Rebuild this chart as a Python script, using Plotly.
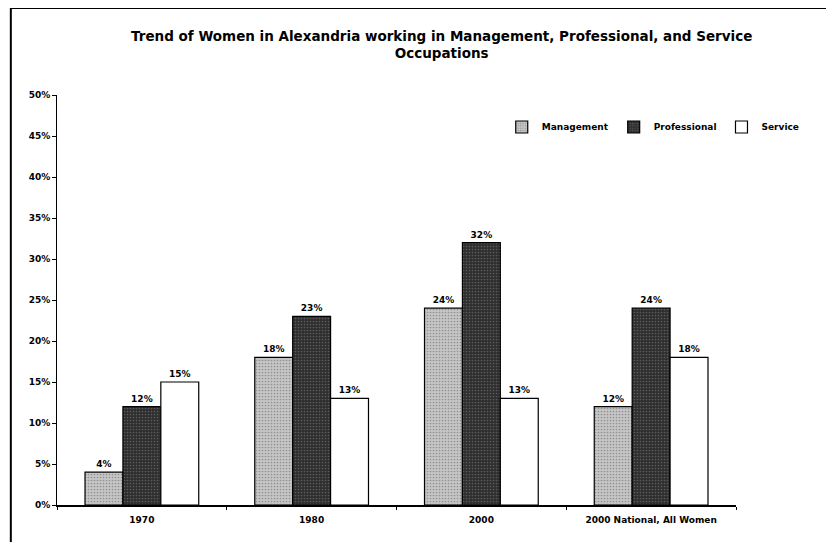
"""
Women in Alexandria working in Management, Professional and Service
occupations, 1970 to 2000, compared with the national 2000 figures.
"""

import plotly.graph_objects as go

# Categories on the x axis.
AÑOS = ["1970", "1980", "2000", "2000 National, All Women"]

# Share of women in each occupation (percent).
MANAGEMENT = [4, 18, 24, 12]
PROFESSIONAL = [12, 23, 32, 24]
SERVICE = [15, 13, 13, 18]

FONT = "DejaVu Sans, Verdana, sans-serif"


def grafica():
    fig = go.Figure()

    # Management: light stippled gray.
    fig.add_trace(
        go.Bar(
            x=AÑOS,
            y=MANAGEMENT,
            name="Management",
            marker_color="#c4c4c4",
            marker_line_color="#000000",
            marker_line_width=1.2,
            marker_pattern=dict(
                shape=".", bgcolor="#c6c6c6", fgcolor="#5a5a5a", size=3, solidity=0.25
            ),
            texttemplate="%{y}",
            textposition="outside",
            cliponaxis=False,
        )
    )

    # Professional: dark stippled gray.
    fig.add_trace(
        go.Bar(
            x=AÑOS,
            y=PROFESSIONAL,
            name="Professional",
            marker_color="#3c3c3c",
            marker_line_color="#000000",
            marker_line_width=1.2,
            marker_pattern=dict(
                shape=".", bgcolor="#2e2e2e", fgcolor="#8a8a8a", size=3, solidity=0.25
            ),
            texttemplate="%{y}",
            textposition="outside",
            cliponaxis=False,
        )
    )

    # Service: plain white.
    fig.add_trace(
        go.Bar(
            x=AÑOS,
            y=SERVICE,
            name="Service",
            marker_color="#ffffff",
            marker_line_color="#000000",
            marker_line_width=1.2,
            texttemplate="%{y}",
            textposition="outside",
            cliponaxis=False,
        )
    )

    fig.update_traces(textfont=dict(family=FONT, size=9, color="#000000", weight="bold"))

    fig.update_xaxes(
        showline=True,
        linecolor="#000000",
        linewidth=1.5,
        ticks="outside",
        tickson="boundaries",
        ticklen=3,
        tickcolor="#000000",
        ticklabelstandoff=5,
        tickfont=dict(family=FONT, size=9, color="#000000", weight="bold"),
        showgrid=False,
        zeroline=False,
    )

    fig.update_yaxes(
        range=[0, 50],
        dtick=5,
        ticksuffix="%",
        showline=True,
        linecolor="#000000",
        linewidth=1,
        ticks="outside",
        ticklen=4,
        tickcolor="#000000",
        tickfont=dict(family=FONT, size=9, color="#000000", weight="bold"),
        showgrid=False,
        zeroline=False,
    )

    fig.update_layout(
        width=834,
        height=542,
        barmode="group",
        bargap=0.33,
        bargroupgap=0,
        plot_bgcolor="#ffffff",
        paper_bgcolor="#ffffff",
        font_family=FONT,
        font_color="#000000",
        title=dict(
            text="Trend of Women in Alexandria working in Management, Professional, and Service<br>Occupations",
            x=0.52,
            xanchor="center",
            y=0.94,
            yanchor="top",
            font=dict(family=FONT, size=13.5, color="#000000", weight="bold"),
        ),
        showlegend=True,
        legend=dict(
            orientation="h",
            x=0.655,
            y=0.922,
            xanchor="left",
            yanchor="middle",
            font=dict(family=FONT, size=9, color="#000000", weight="bold"),
            itemwidth=30,
            tracegroupgap=0,
            bgcolor="rgba(0,0,0,0)",
        ),
        margin=dict(l=49, r=106, t=87, b=45),
        shapes=[
            # Marco de la imagen escaneada (arriba e izquierda).
            dict(
                type="line",
                xref="paper",
                yref="paper",
                x0=-0.068,
                x1=1.2,
                y0=1.212,
                y1=1.212,
                line=dict(color="#000000", width=2),
            ),
            dict(
                type="line",
                xref="paper",
                yref="paper",
                x0=-0.068,
                x1=-0.068,
                y0=1.212,
                y1=-0.2,
                line=dict(color="#000000", width=2),
            ),
        ],
    )

    fig.write_html("out.html")


if __name__ == "__main__":
    grafica()
